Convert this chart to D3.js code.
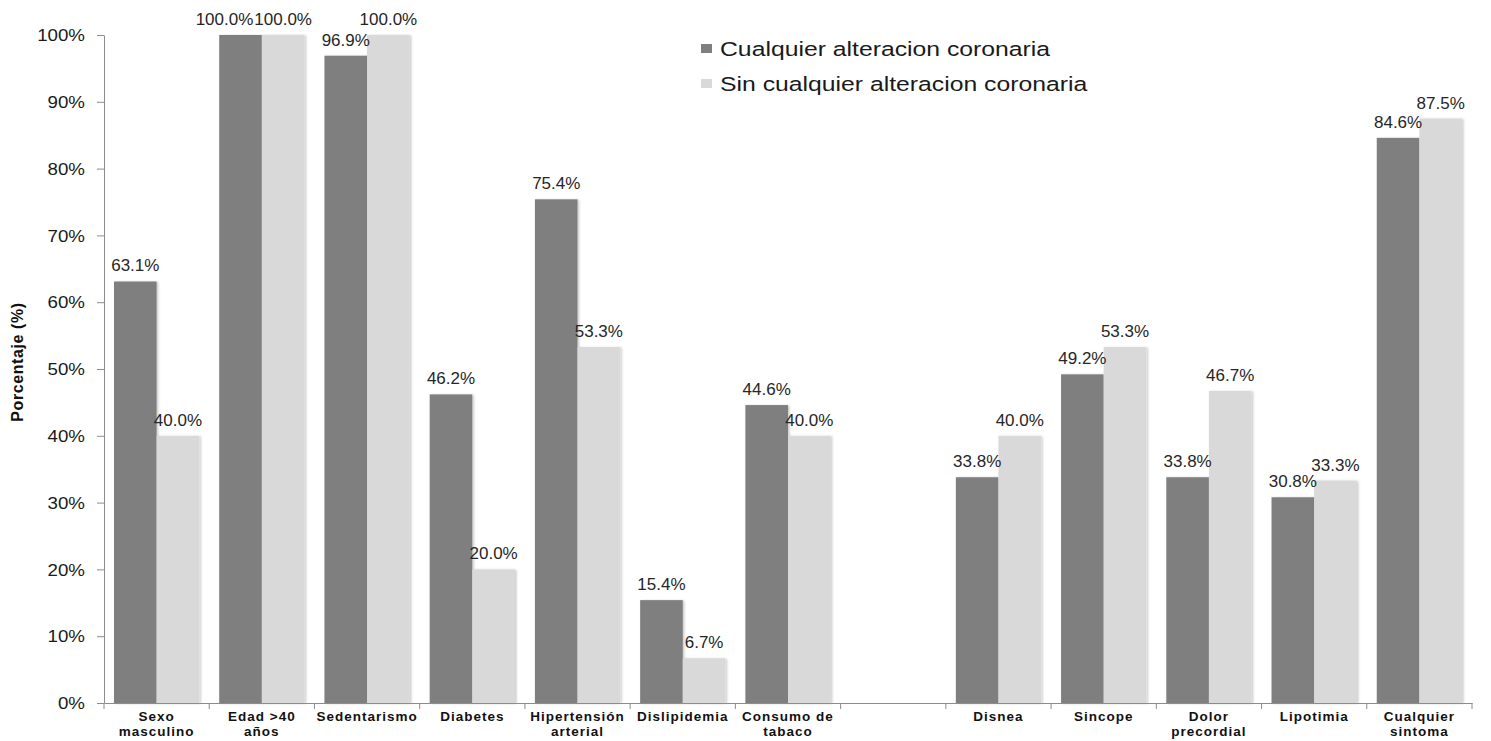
<!DOCTYPE html>
<html>
<head>
<meta charset="utf-8">
<script src="https://cdn.jsdelivr.net/npm/d3@7"></script>
<style>
  html, body { margin: 0; padding: 0; background: #fff; }
  svg { display: block; }
</style>
</head>
<body>
<svg id="chart" width="1491" height="741"></svg>
<script>
// Category labels (each split in two lines); the empty entry is a spacer slot
const categories = [
  ["Sexo", "masculino"],
  ["Edad >40", "años"],
  ["Sedentarismo"],
  ["Diabetes"],
  ["Hipertensión", "arterial"],
  ["Dislipidemia"],
  ["Consumo de", "tabaco"],
  [],
  ["Disnea"],
  ["Sincope"],
  ["Dolor", "precordial"],
  ["Lipotimia"],
  ["Cualquier", "sintoma"]
];

const seriesNames = ["Cualquier alteracion coronaria", "Sin cualquier alteracion coronaria"];

// Percentages per category, null for the spacer slot
const withAlteration    = [63.1, 100.0, 96.9, 46.2, 75.4, 15.4, 44.6, null, 33.8, 49.2, 33.8, 30.8, 84.6];
const withoutAlteration = [40.0, 100.0, 100.0, 20.0, 53.3, 6.7, 40.0, null, 40.0, 53.3, 46.7, 33.3, 87.5];

const yTicks = [0, 10, 20, 30, 40, 50, 60, 70, 80, 90, 100];

const colors = ["#7f7f7f", "#d9d9d9"];

const svg = d3.select("#chart");

const plotLeft = 104, plotRight = 1472, plotTop = 35, plotBottom = 703;

const keys = categories.map((c, i) => "c" + i);
const x = d3.scaleBand().domain(keys).range([plotLeft, plotRight]).padding(0);
const bw = x.bandwidth();
const x1 = d3.scaleBand().domain([0, 1]).range([bw * 0.095, bw * 0.905]).padding(0);
const y = d3.scaleLinear().domain([0, 100]).range([plotBottom, plotTop]);

// soft shadow on bars
const defs = svg.append("defs");
const f = defs.append("filter").attr("id", "shadow").attr("x", "-10%").attr("y", "-10%").attr("width", "130%").attr("height", "120%");
f.append("feDropShadow").attr("dx", 1.5).attr("dy", 0.5).attr("stdDeviation", 0.8)
  .attr("flood-color", "#000").attr("flood-opacity", 0.22);

// Y axis
const yAxis = d3.axisLeft(y).tickValues(yTicks).tickSize(7).tickSizeOuter(0).tickPadding(0)
  .tickFormat(d => d + "%");
const gy = svg.append("g").attr("transform", `translate(${plotLeft},0)`).call(yAxis);
gy.select(".domain").attr("stroke", "#8c8c8c");
gy.selectAll(".tick line").attr("stroke", "#8c8c8c");
const sxTick = 1.17;
gy.selectAll(".tick text")
  .attr("font-family", "'Liberation Sans', Arial, sans-serif")
  .attr("font-size", 16)
  .attr("fill", "#1a1a1a")
  .attr("text-anchor", "end")
  .attr("dy", "0.36em")
  .attr("x", -19 / sxTick)
  .attr("transform", `scale(${sxTick},1)`);

// Bars
const data = [withAlteration, withoutAlteration];
const groups = svg.append("g").selectAll("g")
  .data(keys)
  .join("g")
  .attr("transform", d => `translate(${x(d)},0)`);

groups.each(function (k, i) {
  const g = d3.select(this);
  [0, 1].forEach(s => {
    const v = data[s][i];
    if (v == null) return;
    g.append("rect")
      .attr("x", x1(s))
      .attr("y", y(v))
      .attr("width", x1.bandwidth())
      .attr("height", y(0) - y(v))
      .attr("fill", colors[s])
      .attr("filter", "url(#shadow)");
  });
});

// Value labels; when a pair at the same height would collide, the left one slides left
groups.each(function (k, i) {
  const g = d3.select(this);
  const labels = [];
  [0, 1].forEach(s => {
    const v = data[s][i];
    if (v == null) return;
    const cx = x1(s) + x1.bandwidth() / 2;
    const t = g.append("text")
      .attr("x", cx)
      .attr("y", y(v) - 10)
      .attr("text-anchor", "middle")
      .attr("font-family", "'Liberation Sans', Arial, sans-serif")
      .attr("font-size", 17)
      .attr("fill", "#262626")
      .text(d3.format(".1f")(v) + "%");
    labels.push({ t, cx, v, w: t.node().getComputedTextLength() });
  });
  if (labels.length === 2 && Math.abs(y(labels[0].v) - y(labels[1].v)) < 16) {
    const [a, b] = labels;
    const overlap = (a.cx + a.w / 2) - (b.cx - b.w / 2);
    if (overlap > 0) a.t.attr("x", a.cx - overlap - 1);
  }
});

// X axis
const xAxis = d3.axisBottom(x).tickSize(0).tickSizeOuter(0).tickFormat(() => "");
const gx = svg.append("g").attr("transform", `translate(0,${plotBottom})`).call(xAxis);
gx.select(".domain").attr("stroke", "#8c8c8c");
const boundaries = keys.map(k => x(k)).concat([plotRight]);
gx.selectAll(".bound").data(boundaries).join("line")
  .attr("class", "bound")
  .attr("x1", d => d).attr("x2", d => d)
  .attr("y1", 0).attr("y2", 6)
  .attr("stroke", "#8c8c8c");

// Category labels
groups.each(function (k, i) {
  const lines = categories[i];
  const t = d3.select(this).append("text")
    .attr("text-anchor", "middle")
    .attr("font-family", "'Liberation Sans', Arial, sans-serif")
    .attr("font-weight", "bold")
    .attr("font-size", 13.5)
    .attr("letter-spacing", 1.0)
    .attr("fill", "#111");
  lines.forEach((ln, j) => {
    t.append("tspan").attr("x", bw / 2).attr("y", 721 + j * 15).text(ln);
  });
});

// Y axis title
svg.append("text")
  .attr("transform", "translate(23,362) rotate(-90)")
  .attr("text-anchor", "middle")
  .attr("font-family", "'Liberation Sans', Arial, sans-serif")
  .attr("font-weight", "bold")
  .attr("font-size", 16)
  .attr("letter-spacing", 0.6)
  .attr("fill", "#111")
  .text("Porcentaje (%)");

// Legend
const legend = svg.append("g").attr("transform", "translate(701,44)");
const sxLeg = 1.27;
seriesNames.forEach((name, i) => {
  const row = legend.append("g").attr("transform", `translate(0,${i * 35})`);
  row.append("rect").attr("x", 0).attr("y", 0).attr("width", 11).attr("height", 9).attr("fill", colors[i]);
  row.append("text")
    .attr("transform", `translate(19,12) scale(${sxLeg},1)`)
    .attr("font-family", "'Liberation Sans', Arial, sans-serif")
    .attr("font-size", 19.5)
    .attr("fill", "#1a1a1a")
    .text(name);
});
</script>
</body>
</html>
